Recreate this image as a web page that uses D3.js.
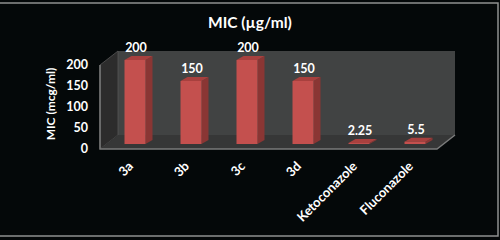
<!DOCTYPE html>
<html>
<head>
<meta charset="utf-8">
<script src="https://cdn.jsdelivr.net/npm/d3@7"></script>
<style>
  body { margin: 0; background: #ffffff; }
  svg { display: block; }
  text { font-family: Lato, "Open Sans", sans-serif; font-weight: bold; fill: #ffffff; }
</style>
</head>
<body>
<div id="chart"></div>
<script>
// data
const categories = ['3a', '3b', '3c', '3d', 'Ketoconazole', 'Fluconazole'];
const micValues = [200, 150, 200, 150, 2.25, 5.5];
const valueLabels = ['200', '150', '200', '150', '2.25', '5.5'];
const yTicks = [0, 50, 100, 150, 200];

const width = 500, height = 240;
const svg = d3.select('#chart').append('svg')
    .attr('width', width)
    .attr('height', height);

// background + frame
svg.append('rect').attr('width', width).attr('height', height).attr('fill', '#040809');
svg.append('rect')
    .attr('x', -2).attr('y', 3).attr('width', 500).attr('height', 233)
    .attr('fill', 'none').attr('stroke', '#8e9090').attr('stroke-width', 1.5);

// 3d box geometry (front plane)
const fx0 = 100, fx1 = 437;   // front floor edge
const dx = 18, dy = -14;      // depth offset
const yAxis = d3.scaleLinear().domain([0, 200]).range([149, 65]);
const yBar = d3.scaleLinear().domain([0, 200]).range([144, 60]);
const x = d3.scaleBand().domain(categories).range([107, 443])
    .paddingInner(0.625).paddingOuter(0.3125);

const y0 = yAxis(0), yTop = yAxis(200);

// back wall
svg.append('rect')
    .attr('x', fx0 + dx).attr('y', yTop + dy)
    .attr('width', fx1 - fx0).attr('height', y0 - yTop)
    .attr('fill', '#414343');
// left wall
svg.append('path')
    .attr('d', `M${fx0},${yTop}L${fx0 + dx},${yTop + dy}L${fx0 + dx},${y0 + dy}L${fx0},${y0}Z`)
    .attr('fill', '#2c2c2c').attr('stroke', '#555').attr('stroke-width', 0.8);
// floor
svg.append('path')
    .attr('d', `M${fx0},${y0}L${fx0 + dx},${y0 + dy}L${fx1 + dx},${y0 + dy}L${fx1},${y0}Z`)
    .attr('fill', '#363737');
// floor front edge
svg.append('path')
    .attr('d', `M${fx0},${yTop}L${fx0},${y0}L${fx1},${y0}L${fx1 + dx},${y0 + dy}`)
    .attr('fill', 'none').attr('stroke', '#7a7b7b').attr('stroke-width', 1.5);

// bars
const bw = x.bandwidth(), bdx = 7, bdy = -4;
const bars = svg.append('g').selectAll('g').data(categories).join('g');
bars.append('path') // side
    .attr('d', (d, i) => {
        const xr = x(d) + bw, yt = yBar(micValues[i]), yb = yBar(0);
        return `M${xr},${yt}L${xr + bdx},${yt + bdy}L${xr + bdx},${yb + bdy}L${xr},${yb}Z`;
    })
    .attr('fill', '#8a3634');
bars.append('path') // top
    .attr('d', (d, i) => {
        const xl = x(d), yt = yBar(micValues[i]);
        return `M${xl},${yt}L${xl + bdx},${yt + bdy}L${xl + bw + bdx},${yt + bdy}L${xl + bw},${yt}Z`;
    })
    .attr('fill', '#a8403e');
bars.append('rect') // front
    .attr('x', d => x(d))
    .attr('y', (d, i) => yBar(micValues[i]))
    .attr('width', bw)
    .attr('height', (d, i) => yBar(0) - yBar(micValues[i]))
    .attr('fill', '#c4504e');

// value labels
svg.append('g').selectAll('text').data(categories).join('text')
    .attr('x', d => x(d) + bw / 2 + 1)
    .attr('y', (d, i) => yBar(micValues[i]) + bdy - 4)
    .attr('text-anchor', 'middle')
    .attr('font-size', 12.5)
    .text((d, i) => valueLabels[i]);

// y ticks
svg.append('g').selectAll('text').data(yTicks).join('text')
    .attr('x', 88)
    .attr('y', d => yAxis(d) + 4)
    .attr('text-anchor', 'end')
    .attr('font-size', 12.5)
    .text(d => d);

// x labels
svg.append('g').selectAll('text').data(categories).join('text')
    .attr('transform', d => `translate(${x(d) + bw / 2 - 1},${167}) rotate(-45)`)
    .attr('text-anchor', 'end')
    .attr('font-size', 13)
    .text(d => d);

// title
svg.append('text')
    .attr('x', 250).attr('y', 28)
    .attr('text-anchor', 'middle')
    .attr('font-size', 15.5)
    .text('MIC (µg/ml)');

// y axis title
svg.append('text')
    .attr('transform', 'translate(55,104) rotate(-90)')
    .attr('text-anchor', 'middle')
    .attr('font-size', 12)
    .text('MIC (mcg/ml)');
</script>
</body>
</html>
